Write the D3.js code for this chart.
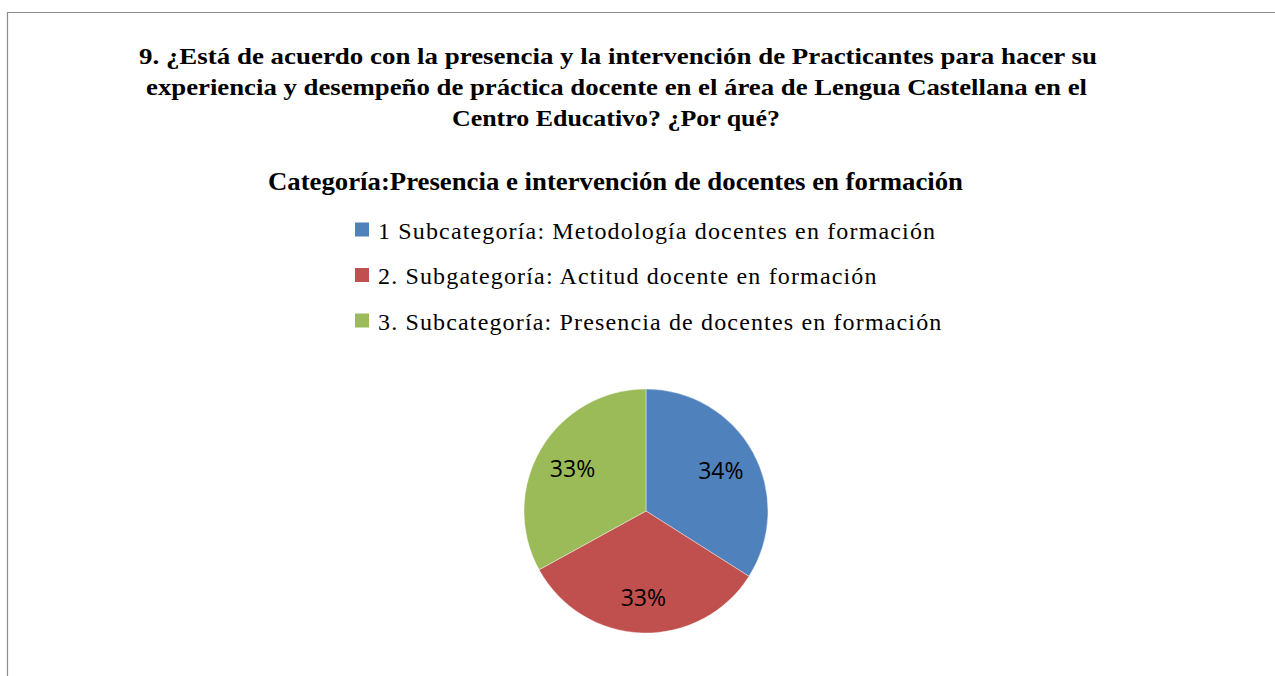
<!DOCTYPE html>
<html>
<head>
<meta charset="utf-8">
<script src="https://cdn.jsdelivr.net/npm/d3@7"></script>
<style>
  body { margin: 0; background: #fff; }
  svg { display: block; }
</style>
</head>
<body>
<div id="chart"></div>
<script>
// chart data
var titleLines = [
    "9. ¿Está de acuerdo con la presencia y la intervención de Practicantes  para hacer su",
    "experiencia y desempeño de práctica docente en el área de Lengua Castellana en el",
    "Centro Educativo?  ¿Por qué?"
];
var subtitle = "Categoría:Presencia e intervención de docentes en formación";
var categories = [
    "1 Subcategoría:  Metodología docentes en formación",
    "2. Subgategoría: Actitud docente en formación",
    "3. Subcategoría: Presencia de docentes en formación"
];
var values = [34, 33, 33];
var colors = ["#4F81BD", "#C0504D", "#9BBB59"];

var width = 1275, height = 676;
var cx = 646, cy = 511, radius = 122;
var serif = "'Liberation Serif', 'Times New Roman', serif";

var svg = d3.select("#chart").append("svg")
    .attr("width", width)
    .attr("height", height);

// chart frame (only top and left edges are visible in the crop)
svg.append("path")
    .attr("d", "M7.5," + height + "V12.5H" + width)
    .attr("fill", "none")
    .attr("stroke", "#8c8c8c")
    .attr("stroke-width", 1.2);

// title, each line fitted to the width it has in the picture
var titleLayout = [
    {x: 618, y: 64, len: 958},
    {x: 616.5, y: 95, len: 941},
    {x: 616, y: 126, len: 328}
];
svg.selectAll("text.title")
    .data(titleLines)
    .enter()
    .append("text")
    .attr("class", "title")
    .attr("x", function(d, i) { return titleLayout[i].x; })
    .attr("y", function(d, i) { return titleLayout[i].y; })
    .attr("text-anchor", "middle")
    .attr("textLength", function(d, i) { return titleLayout[i].len; })
    .attr("lengthAdjust", "spacingAndGlyphs")
    .style("font-family", serif)
    .style("font-weight", "bold")
    .style("font-size", "24px")
    .text(function(d) { return d; });

svg.append("text")
    .attr("x", 615.5)
    .attr("y", 190)
    .attr("text-anchor", "middle")
    .attr("textLength", 695)
    .attr("lengthAdjust", "spacingAndGlyphs")
    .style("font-family", serif)
    .style("font-weight", "bold")
    .style("font-size", "26px")
    .text(subtitle);

// legend
var legendY = d3.scalePoint()
    .domain(categories)
    .range([229.5, 320.5]);

var legend = svg.selectAll("g.legend")
    .data(categories)
    .enter()
    .append("g")
    .attr("class", "legend")
    .attr("transform", function(d) { return "translate(355," + legendY(d) + ")"; });

legend.append("rect")
    .attr("x", 0)
    .attr("y", -7)
    .attr("width", 14)
    .attr("height", 14)
    .attr("fill", function(d, i) { return colors[i]; });

legend.append("text")
    .attr("x", 23)
    .attr("y", 9)
    .style("font-family", serif)
    .style("font-size", "24px")
    .style("letter-spacing", "1.15px")
    .style("fill", "#000")
    .text(function(d) { return d; });

// pie
var total = d3.sum(values);
var pie = d3.pie().sort(null).value(function(d) { return d; });
var arc = d3.arc().innerRadius(0).outerRadius(radius);
var labelArc = d3.arc().innerRadius(radius * 0.7).outerRadius(radius * 0.7);
var pct = d3.format(".0%");

var pieG = svg.append("g")
    .attr("transform", "translate(" + cx + "," + cy + ")");

var slices = pieG.selectAll("g.slice")
    .data(pie(values))
    .enter()
    .append("g")
    .attr("class", "slice");

slices.append("path")
    .attr("d", arc)
    .attr("fill", function(d, i) { return colors[i]; })
    .attr("stroke", "#fff")
    .attr("stroke-width", 0.4);

slices.append("text")
    .attr("transform", function(d) { return "translate(" + labelArc.centroid(d) + ")"; })
    .attr("text-anchor", "middle")
    .attr("dy", "0.4em")
    .style("font-family", "'Open Sans', 'Noto Sans', sans-serif")
    .style("font-size", "23px")
    .style("fill", "#000")
    .text(function(d) { return pct(d.value / total); });
</script>
</body>
</html>
